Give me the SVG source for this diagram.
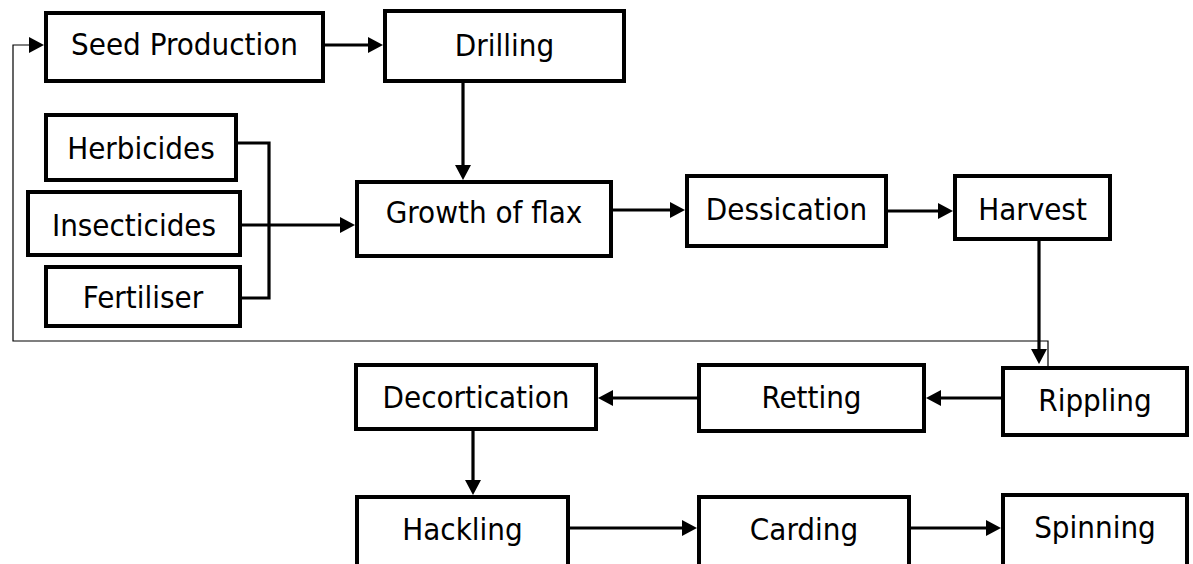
<svg xmlns="http://www.w3.org/2000/svg" width="1193" height="564" viewBox="0 0 1193 564">
<style>
.box{fill:#fff;stroke:#000;stroke-width:4}
.lbl{font-family:"DejaVu Sans Condensed","DejaVu Sans",sans-serif;font-stretch:condensed;font-size:31px;fill:#000;text-anchor:middle}
.c{fill:none;stroke:#000;stroke-width:3.2}
.thin{fill:none;stroke:#000;stroke-width:1.2}
</style>
<defs>
<marker id="ah" markerUnits="userSpaceOnUse" markerWidth="15" markerHeight="16" viewBox="0 0 15 16" refX="5" refY="8" orient="auto">
<path d="M0,0 L15,8 L0,16 z" fill="#000"/>
</marker>
</defs>
<rect width="1193" height="564" fill="#fff"/>
<g id="connectors">
<line class="c" x1="325" y1="45" x2="373" y2="45" marker-end="url(#ah)"/>
<line class="c" x1="463" y1="83" x2="463" y2="170" marker-end="url(#ah)"/>
<polyline class="c" points="238,143 269,143 269,298 242,298"/>
<line class="c" x1="242" y1="225" x2="345" y2="225" marker-end="url(#ah)"/>
<line class="c" x1="613" y1="210" x2="675" y2="210" marker-end="url(#ah)"/>
<line class="c" x1="888" y1="211" x2="943" y2="211" marker-end="url(#ah)"/>
<line class="c" x1="1039" y1="241" x2="1039" y2="354" marker-end="url(#ah)"/>
<line class="c" x1="1001" y1="398" x2="936" y2="398" marker-end="url(#ah)"/>
<line class="c" x1="697" y1="398" x2="608" y2="398" marker-end="url(#ah)"/>
<line class="c" x1="473" y1="431" x2="473" y2="485" marker-end="url(#ah)"/>
<line class="c" x1="570" y1="528" x2="687" y2="528" marker-end="url(#ah)"/>
<line class="c" x1="911" y1="528" x2="991" y2="528" marker-end="url(#ah)"/>
<polyline class="thin" points="1048,366 1048,341 13,341 13,45 34,45" marker-end="url(#ah)"/>
</g>
<g id="seed"><rect class="box" x="46" y="13" width="277" height="68"/><text class="lbl" x="184.5" y="55">Seed Production</text></g>
<g id="drilling"><rect class="box" x="385" y="11" width="239" height="70"/><text class="lbl" x="504.5" y="56">Drilling</text></g>
<g id="herbicides"><rect class="box" x="46" y="115" width="190" height="65"/><text class="lbl" x="141" y="159">Herbicides</text></g>
<g id="insecticides"><rect class="box" x="28" y="192" width="212" height="63"/><text class="lbl" x="134" y="236">Insecticides</text></g>
<g id="fertiliser"><rect class="box" x="46" y="267" width="194" height="59"/><text class="lbl" x="143" y="308">Fertiliser</text></g>
<g id="growth"><rect class="box" x="357" y="182" width="254" height="74"/><text class="lbl" x="484" y="223">Growth of flax</text></g>
<g id="dessication"><rect class="box" x="687" y="176" width="199" height="70"/><text class="lbl" x="786.5" y="220">Dessication</text></g>
<g id="harvest"><rect class="box" x="955" y="176" width="155" height="63"/><text class="lbl" x="1032.5" y="220">Harvest</text></g>
<g id="rippling"><rect class="box" x="1003" y="368" width="184" height="67"/><text class="lbl" x="1095" y="411">Rippling</text></g>
<g id="retting"><rect class="box" x="699" y="365" width="225" height="66"/><text class="lbl" x="811.5" y="408">Retting</text></g>
<g id="decortication"><rect class="box" x="356" y="365" width="240" height="64"/><text class="lbl" x="476" y="408">Decortication</text></g>
<g id="hackling"><rect class="box" x="357" y="497" width="211" height="80"/><text class="lbl" x="462.5" y="540">Hackling</text></g>
<g id="carding"><rect class="box" x="699" y="497" width="210" height="80"/><text class="lbl" x="804" y="540">Carding</text></g>
<g id="spinning"><rect class="box" x="1003" y="495" width="184" height="82"/><text class="lbl" x="1095" y="538">Spinning</text></g>
</svg>
